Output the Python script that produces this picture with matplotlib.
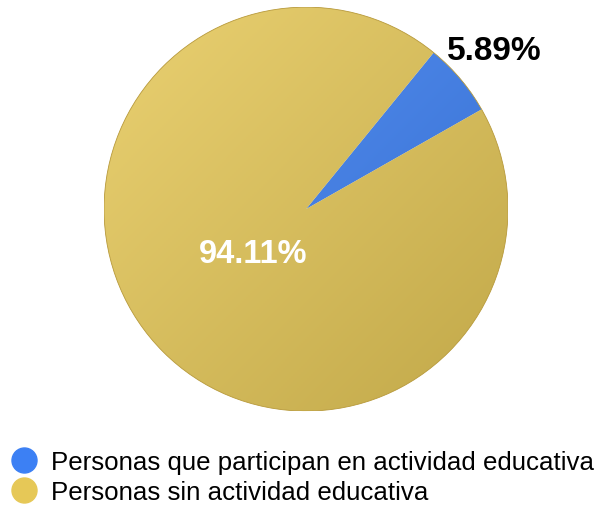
import matplotlib.pyplot as plt
import numpy as np
from matplotlib.lines import Line2D
from matplotlib.patches import Circle

plt.rcParams['font.family'] = ['Liberation Sans', 'DejaVu Sans']

# data
labels = ['Personas que participan en actividad educativa',
          'Personas sin actividad educativa']
values = [5.89, 94.11]
colors = ['#3c80f4', '#e6c857']
label_dist = [1.22, 0.34]
label_size = [24, 23.5]
label_color = ['black', 'white']

fig = plt.figure(figsize=(6.03, 5.10), dpi=100)
ax = fig.add_axes([0.1725, 0.192, 0.670, 0.792])

wedges, _ = ax.pie(values, colors=colors, startangle=29.6, counterclock=True,
                   radius=1, wedgeprops=dict(linewidth=0))
ax.set_xlim(-1, 1)
ax.set_ylim(-1, 1)
ax.set_aspect('equal')

# soft 3d shading, light top-left dark bottom-right
g = np.linspace(0, 1, 200)
gx, gy = np.meshgrid(g, g)
shade = (gx + gy) / 2
im = ax.imshow(shade, cmap='gray_r', extent=(-1, 1, -1, 1), origin='upper',
               alpha=0.16, zorder=3, vmin=0, vmax=1)
im.set_clip_path(Circle((0, 0), 1, transform=ax.transData))
ax.add_patch(Circle((0, 0), 1, fill=False, ec='#b89a3c', lw=0.6, zorder=4))

for w, v, d, s, c in zip(wedges, values, label_dist, label_size, label_color):
    ang = np.deg2rad((w.theta1 + w.theta2) / 2)
    ax.text(d * np.cos(ang), d * np.sin(ang), f'{v:.2f}%', ha='center', va='center',
            fontsize=s, fontweight='bold', color=c, zorder=5)

handles = [Line2D([], [], marker='o', ls='', markersize=18, color=c) for c in colors]
fig.legend(handles, labels, loc='lower left', bbox_to_anchor=(-0.008, -0.018),
           frameon=False, fontsize=18.6, handletextpad=0.5, labelspacing=0.22,
           borderaxespad=0.25, handlelength=1.1, borderpad=0.3)

fig.savefig('out.png', dpi=100)
